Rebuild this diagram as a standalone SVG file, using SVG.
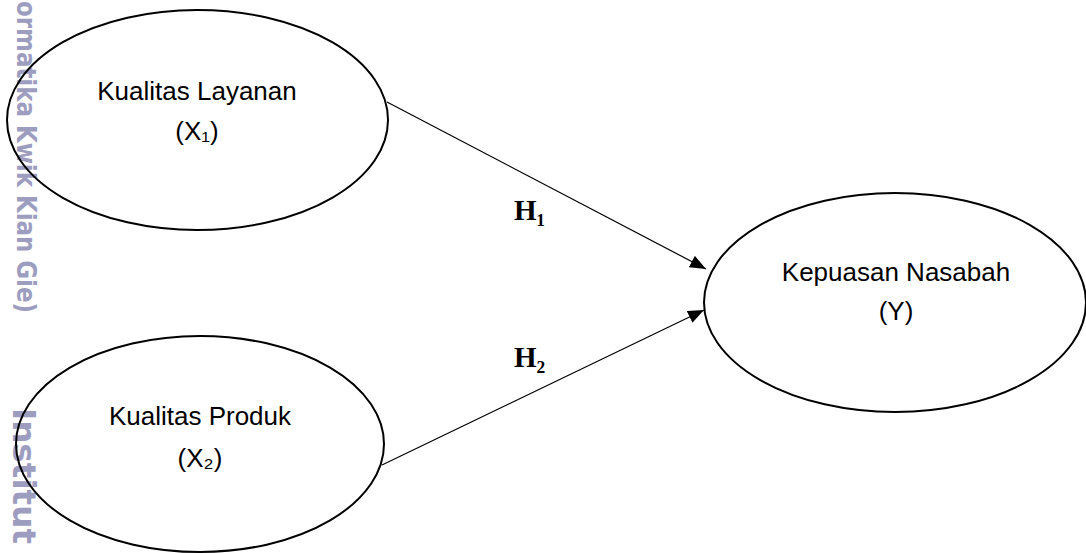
<svg xmlns="http://www.w3.org/2000/svg" width="1086" height="553" viewBox="0 0 1086 553">
<style>
.wm{font-family:"DejaVu Sans",sans-serif;font-weight:bold;fill:#9d9dbf}
.node ellipse{fill:none;stroke:#000;stroke-width:2}
.lbl{font-family:"Liberation Sans",Arial,sans-serif;font-size:26px;fill:#000;text-anchor:middle}
.h{font-family:"Liberation Serif","Times New Roman",serif;font-weight:bold;font-size:29px;fill:#000}
.conn line{stroke:#000;stroke-width:1.2}
</style>
<defs>
<marker id="arr" markerUnits="userSpaceOnUse" markerWidth="17" markerHeight="14" refX="16" refY="6.5" orient="auto">
<path d="M0,0 L16,6.5 L0,13 z" fill="#000"/>
</marker>
</defs>
<rect width="1086" height="553" fill="#fff"/>
<g id="watermark">
<text class="wm" font-size="26" transform="translate(17,1) rotate(90)" textLength="312" lengthAdjust="spacingAndGlyphs">ormatika Kwik Kian Gie)</text>
<text class="wm" font-size="32" transform="translate(13,408) rotate(90)" textLength="136" lengthAdjust="spacingAndGlyphs">Institut</text>
</g>
<g id="connectors" class="conn">
<line x1="387" y1="102" x2="706" y2="269" marker-end="url(#arr)"/>
<line x1="382" y1="465" x2="704" y2="310" marker-end="url(#arr)"/>
</g>
<g id="node-x1" class="node">
<ellipse cx="197.5" cy="120" rx="190.5" ry="110"/>
<text class="lbl" x="197" y="100">Kualitas Layanan</text>
<text class="lbl" x="197" y="140">(X₁)</text>
</g>
<g id="node-x2" class="node">
<ellipse cx="200" cy="444" rx="184" ry="108"/>
<text class="lbl" x="200" y="425">Kualitas Produk</text>
<text class="lbl" x="200" y="467">(X₂)</text>
</g>
<g id="node-y" class="node">
<ellipse cx="895" cy="302.5" rx="191" ry="109.5"/>
<text class="lbl" x="896" y="281">Kepuasan Nasabah</text>
<text class="lbl" x="896" y="320">(Y)</text>
</g>
<g id="labels">
<text class="h" x="514" y="220">H₁</text>
<text class="h" x="514" y="367">H₂</text>
</g>
</svg>
